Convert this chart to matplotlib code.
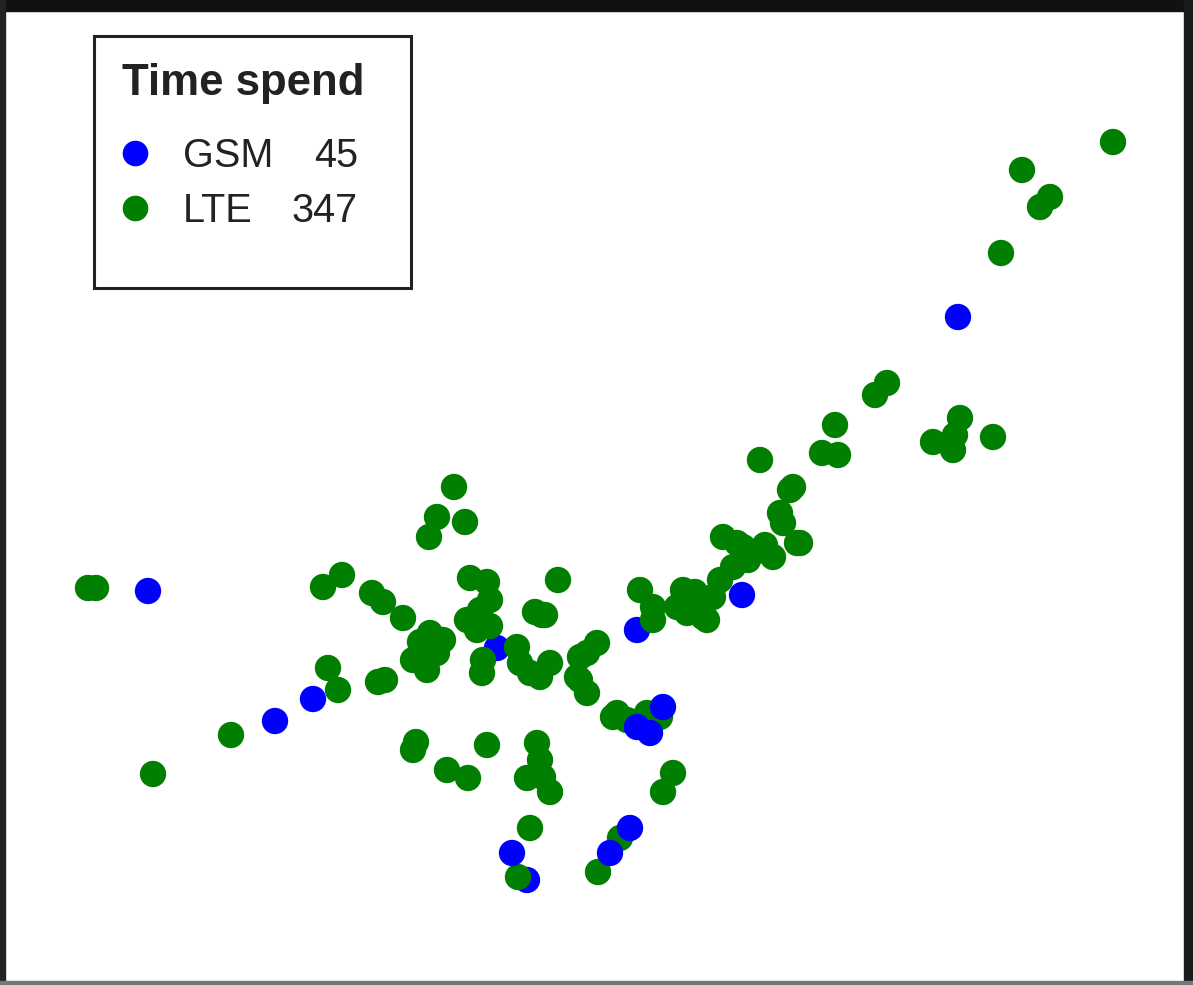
import numpy as np
import matplotlib
matplotlib.use("Agg")
import matplotlib.pyplot as plt
from matplotlib.patches import Rectangle

# points in drawing order (later points sit on top), positions in picture units
pt_x = [148, 275, 313, 497, 637, 742, 958, 527,
        88, 96, 153, 231, 323, 342, 372, 383, 403,
        430, 443, 437, 413, 427, 420, 378, 385, 328, 338,
        470, 487, 490, 480, 467, 477, 490, 483, 482,
        517, 520, 530, 540, 550, 535, 542, 558,
        454, 437, 429, 465, 545,
        580, 580, 587, 597, 587, 577,
        640, 653, 653, 683, 697, 687, 703, 707, 713, 677, 700, 690, 695,
        720, 733, 723, 743, 760, 773, 753, 737, 765, 748,
        793, 780, 797, 800, 783, 790,
        760, 822, 838, 835, 875, 887,
        933, 960, 955, 953, 993,
        1001, 1040, 1050, 1022, 1113,
        613, 627, 647, 660, 617,
        416, 413, 487, 447, 468,
        537, 540, 527, 550, 543,
        673, 663, 530, 518, 620, 598,
        663, 650, 637, 630, 610, 512]
pt_y = [591, 721, 699, 648, 630, 595, 317, 880,
        588, 588, 774, 735, 587, 575, 593, 602, 618,
        633, 640, 653, 660, 670, 642, 682, 680, 668, 690,
        578, 582, 600, 610, 620, 630, 626, 660, 673,
        647, 663, 673, 677, 663, 612, 615, 580,
        487, 517, 537, 522, 615,
        657, 680, 693, 643, 653, 677,
        590, 607, 620, 590, 600, 613, 617, 620, 597, 607, 607, 603, 592,
        580, 567, 537, 547, 550, 557, 553, 543, 545, 560,
        487, 513, 543, 543, 523, 490,
        460, 453, 455, 425, 395, 383,
        442, 418, 435, 450, 437,
        253, 207, 197, 170, 142,
        717, 720, 713, 717, 713,
        742, 750, 745, 770, 778,
        743, 760, 778, 792, 777,
        773, 792, 828, 877, 838, 872,
        707, 733, 727, 828, 853, 853]
# first 8 and last 6 points are GSM, the rest LTE
gsm_behind = 8
gsm_front = 6
pt_net = (["GSM"] * gsm_behind
          + ["LTE"] * (len(pt_x) - gsm_behind - gsm_front)
          + ["GSM"] * gsm_front)

legend_names = ["GSM", "LTE"]
legend_counts = ["45", "347"]
net_colors = {"GSM": "#0000ff", "LTE": "#007f00"}

W, H = 1193, 985
fig = plt.figure(figsize=(W / 100, H / 100), dpi=100)
ax = fig.add_axes([0, 0, 1, 1])
ax.set_xlim(0, W)
ax.set_ylim(H, 0)
ax.axis("off")

cols = [net_colors[n] for n in pt_net]
ax.scatter(pt_x, pt_y, s=360, c=cols, linewidths=0, zorder=3)

# frame of the screenshot
ax.add_patch(Rectangle((0, 0), W, 11, color="#111111", zorder=5))
ax.add_patch(Rectangle((0, 0), 5, H, color="#222222", zorder=5))
ax.add_patch(Rectangle((1184, 0), 9, H, color="#1a1a1a", zorder=5))
ax.add_patch(Rectangle((0, 981), W, 4, color="#777777", zorder=5))

# legend box
ax.add_patch(Rectangle((94, 36), 317, 252, fill=False, edgecolor="#222222",
                       linewidth=2.2, zorder=4))
ax.text(122, 83, "Time spend", fontsize=31.5, fontweight="bold",
        family="Liberation Sans", color="#222222", va="center", ha="left")
for i, name in enumerate(legend_names):
    yy = 156 + i * 55
    ax.scatter([135], [yy - 3], s=340, c=net_colors[name], linewidths=0, zorder=4)
    ax.text(183, yy, name, fontsize=28.5, family="Liberation Sans",
            color="#222222", va="center", ha="left")
    ax.text(358, yy, legend_counts[i], fontsize=28.5, family="Liberation Sans",
            color="#222222", va="center", ha="right")

fig.savefig("out.png", dpi=100, facecolor="white")
